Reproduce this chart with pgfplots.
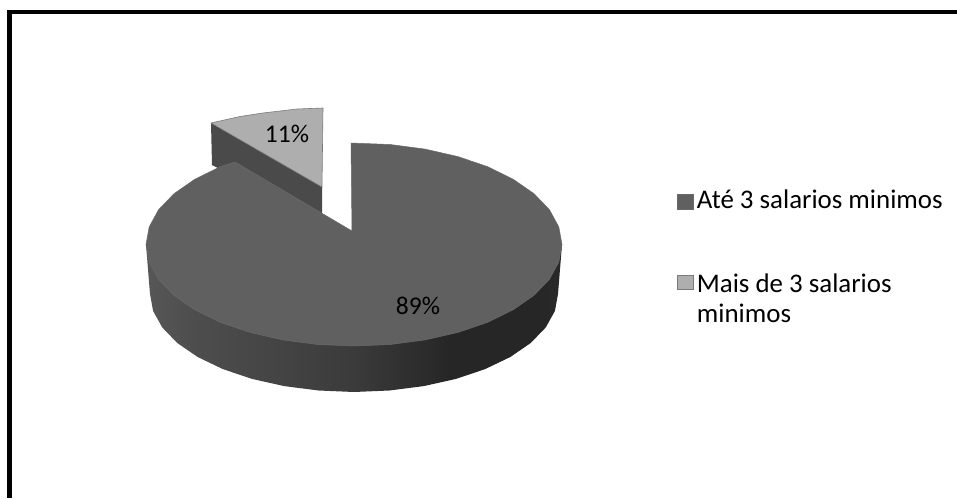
\documentclass[border=0pt]{standalone}
\usepackage{pgfplots}
\pgfplotsset{compat=1.18}
\usepackage{fontspec}
\setmainfont{Carlito}

\definecolor{topmain}{HTML}{606060}
\definecolor{topsmall}{HTML}{AEAEAE}
\definecolor{sidesmall}{HTML}{4A4A4A}
\definecolor{edgesmall}{HTML}{7A7A7A}
\definecolor{edgemain}{HTML}{6A6A6A}

% Wall of the large slice: lit from the left, darkest toward the right
\pgfdeclarehorizontalshading{pieside}{100bp}{%
  color(0bp)=(black!66); color(25bp)=(black!66); color(31.5bp)=(black!70);
  color(40bp)=(black!73); color(50bp)=(black!77); color(61.5bp)=(black!85);
  color(72bp)=(black!85); color(75bp)=(black!84); color(100bp)=(black!84)}

% Legend swatches; the two-line entry has its reference line lower, so its swatch sits higher
\pgfplotsset{
  swatch one line/.style={legend image code/.code={
    \draw[##1] (0pt,-9.5pt) rectangle (15.5pt,6pt); \path[draw=none,fill=none] (0pt,0pt) -- (17pt,0pt);}},
  swatch two lines/.style={legend image code/.code={
    \draw[##1] (0pt,9.5pt) rectangle (15.5pt,24pt); \path[draw=none,fill=none] (0pt,0pt) -- (17pt,0pt);}},
}

\begin{document}
\begin{tikzpicture}
\begin{axis}[
  width=957pt, height=498pt, scale only axis,
  xmin=0, xmax=957, ymin=0, ymax=498, y dir=reverse,
  hide axis, no markers,
  legend cell align=left,
  legend style={draw=none, fill=none, at={(axis cs:677,190)}, anchor=north west,
    font=\fontsize{26.9pt}{30pt}\selectfont, row sep=64pt, inner sep=0pt, outer sep=0pt,
    nodes={align=left, inner xsep=2.5pt, inner ysep=0pt}},
]
% Page extent
\path (axis cs:0,0) rectangle (axis cs:957,498);

% Frame along the top and left sides
\addplot[black, line width=4.6pt, forget plot] coordinates {(9.7,498) (9.7,12) (957,12)};

% Pulled-out slice, 11%: inner wall, then top face
\addplot[fill=sidesmall, draw=none, forget plot] coordinates {
  (211,123) (322,187) (322,216) (235,172) (220,169) (212,165)} --cycle;
\addplot[fill=topsmall, draw=edgesmall, line width=0.6pt, forget plot] coordinates {
  (211,123) (240,116.5) (263,113) (297,109) (323,108) (322,187)} --cycle;

% Large slice, 89%: outer wall
\addplot[shade, shading=pieside, draw=none, forget plot] coordinates {
  (562,244.5) (558,294) (554.9,311) (545.7,327.5) (530.7,343) (510.3,357) (485.1,369.1)
  (456,378.9) (423.8,386.1) (389.4,390.5) (354,392) (318.6,390.5) (284.2,386.1)
  (252,378.9) (222.9,369.1) (197.7,357) (177.3,343) (162.3,327.5) (153.1,311) (150,294)
  (146,244.5)} --cycle;

% Large slice, 89%: top face
\addplot[fill=topmain, draw=edgemain, line width=0.5pt, forget plot] coordinates {
  (351,143) (390.1,144.5) (425.1,149.1) (458,156.6) (487.7,166.7) (513.3,179.3)
  (534.1,193.75) (549.5,209.8) (558.8,226.9) (562,244.5) (558.8,262.1) (549.5,279.2)
  (534.1,295.25) (513.3,309.7) (487.7,322.3) (458,332.4) (425.1,339.9) (390.1,344.5)
  (354,346) (317.9,344.5) (282.9,339.9) (250,332.4) (220.3,322.3) (194.7,309.7)
  (173.9,295.25) (158.5,279.2) (149.2,262.1) (146,244.5) (149.2,226.9) (158.5,209.8)
  (173.9,193.75) (194.7,179.3) (220.3,166.7) (235,162) (352,231)} --cycle;

% Percentage labels
\node[font=\fontsize{25.5pt}{28pt}\selectfont] at (axis cs:287,134) {11\%};
\node[font=\fontsize{25.5pt}{28pt}\selectfont] at (axis cs:418,306) {89\%};

\addlegendimage{swatch one line, draw=edgemain, fill=topmain, line width=0.8pt}
\addlegendentry{Até 3 salarios minimos}
\addlegendimage{swatch two lines, draw=edgesmall, fill=topsmall, line width=0.8pt}
\addlegendentry{Mais de 3 salarios\\minimos}
\end{axis}
\end{tikzpicture}
\end{document}
